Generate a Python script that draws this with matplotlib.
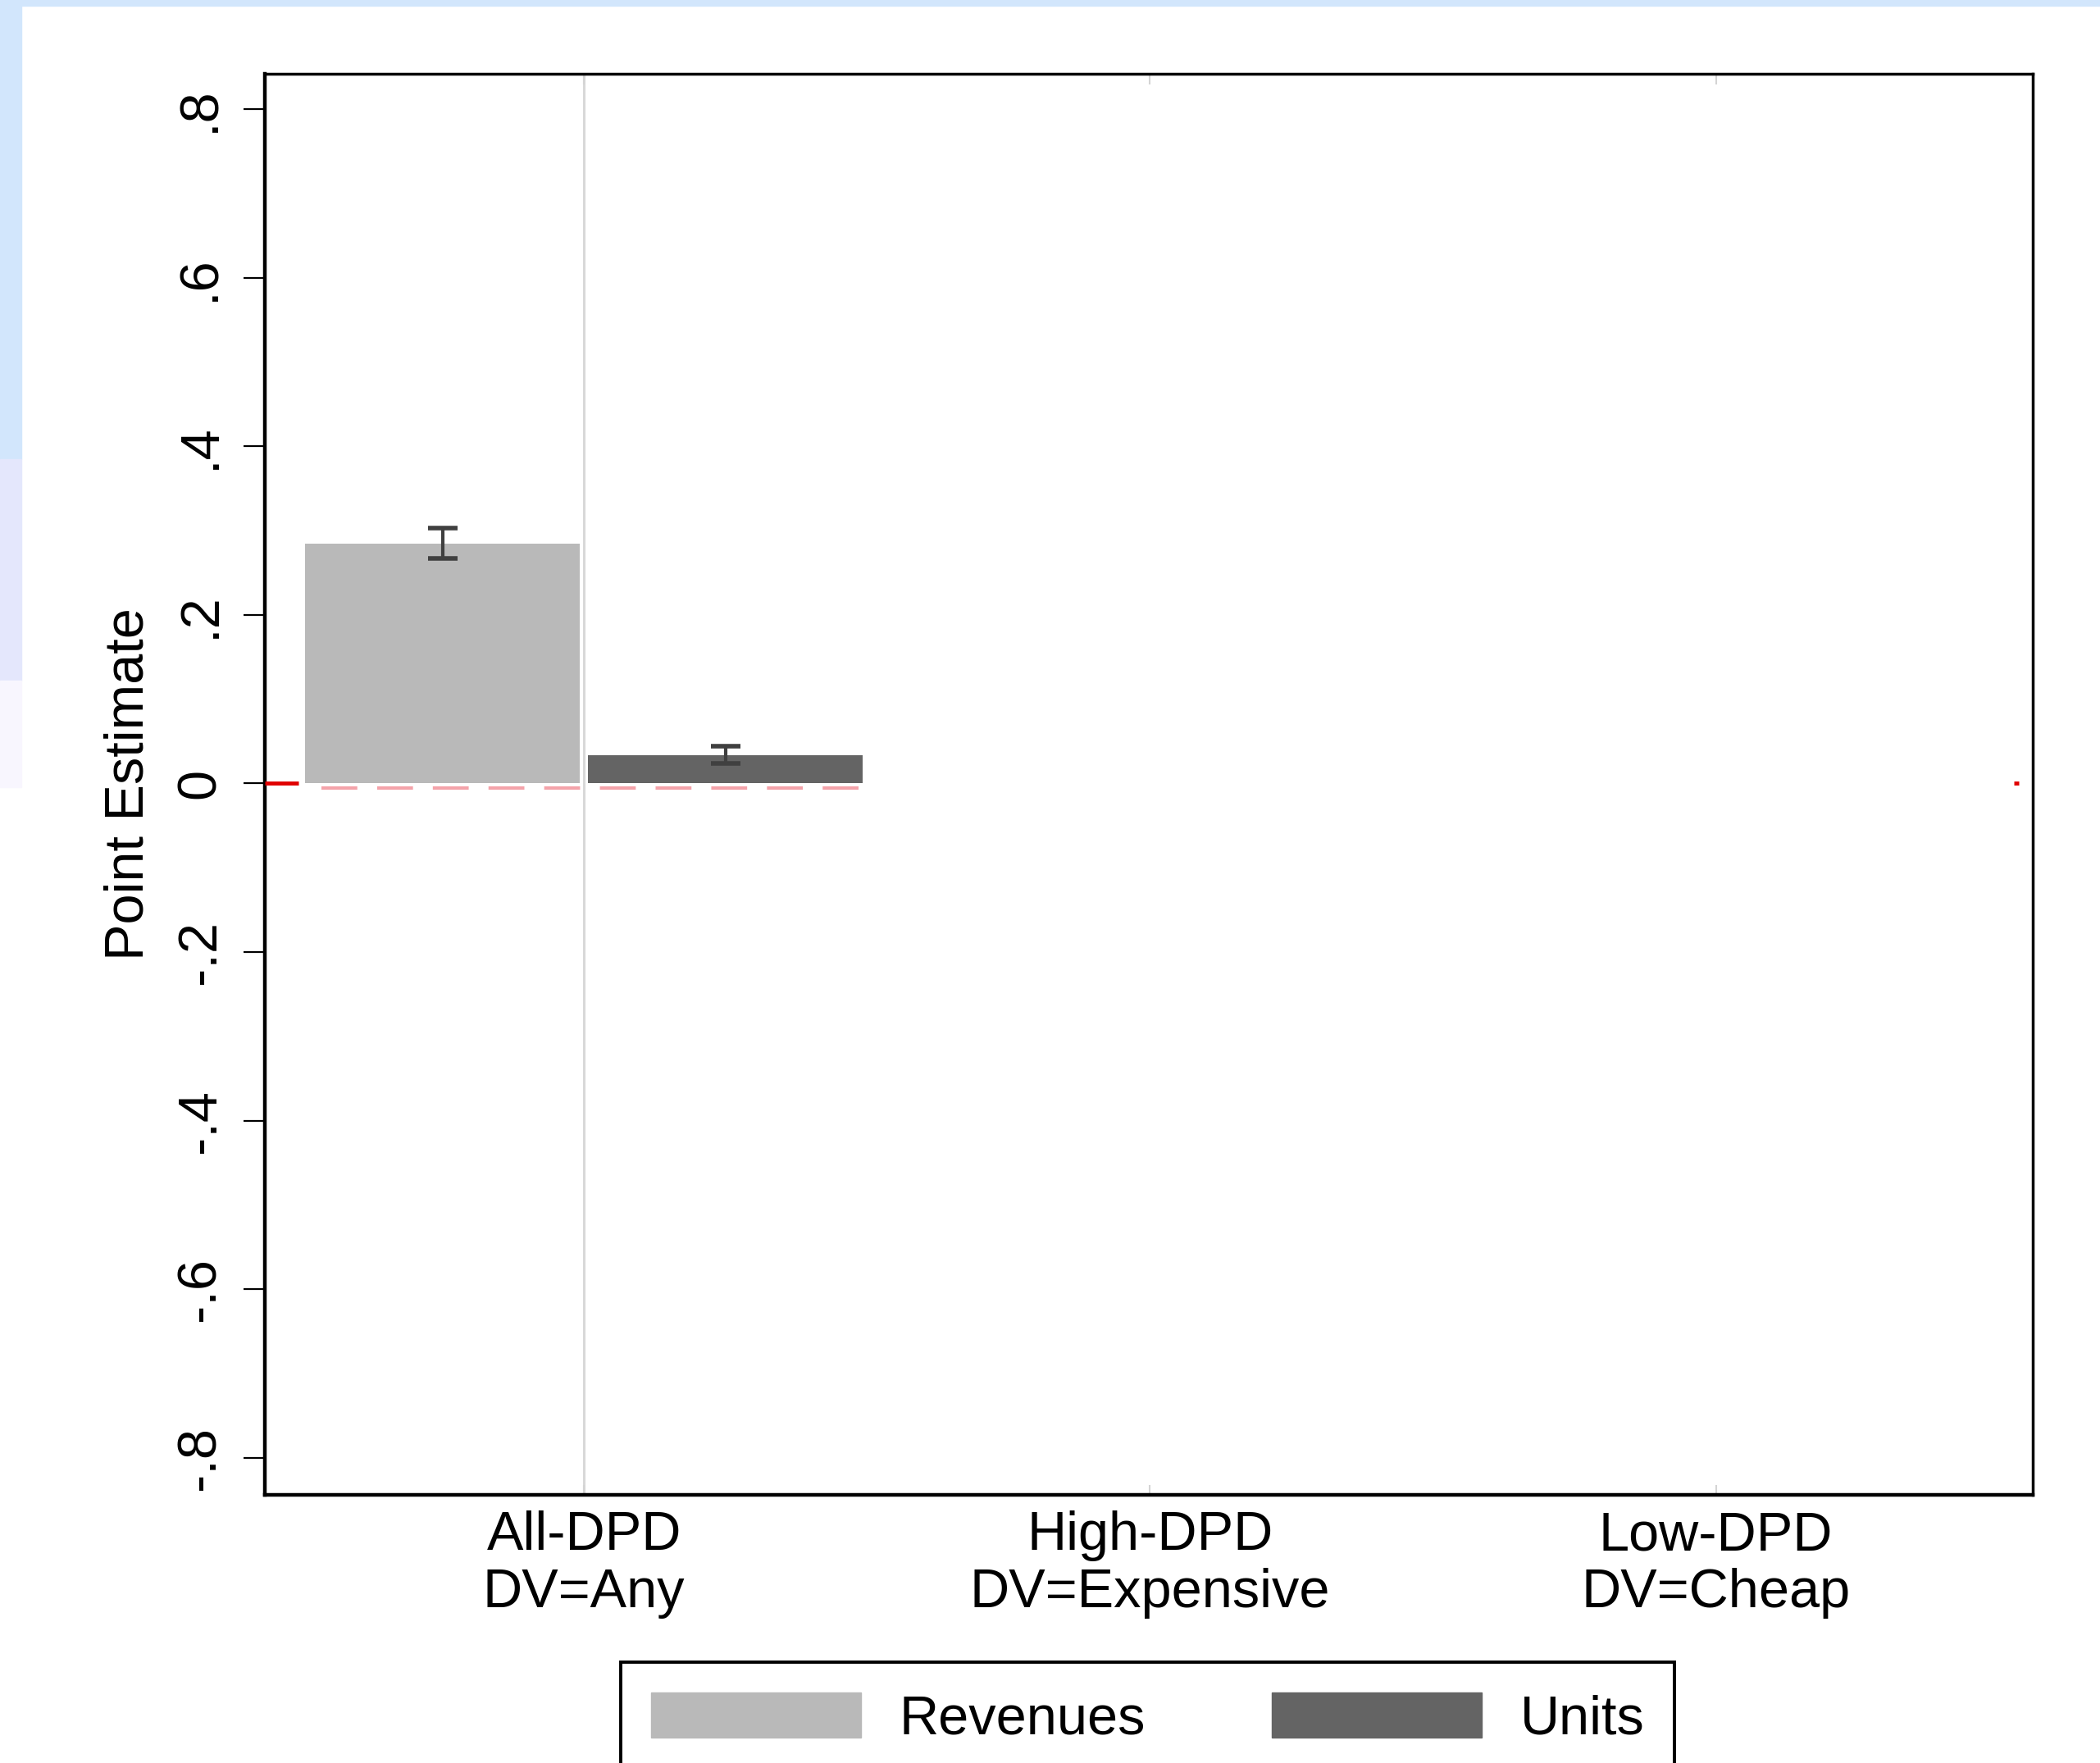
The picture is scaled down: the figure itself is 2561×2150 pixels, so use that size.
import matplotlib
matplotlib.use("Agg")
import matplotlib.pyplot as plt
import numpy as np
from matplotlib.patches import Rectangle, Patch

# data
categories = ["All-DPD\nDV=Any", "High-DPD\nDV=Expensive", "Low-DPD\nDV=Cheap"]
series = ["Revenues", "Units"]
estimates = [[0.285], [0.034]]      # only the first group has bars
errors = [[0.018], [0.010]]
ytick_vals = [-0.8, -0.6, -0.4, -0.2, 0, 0.2, 0.4, 0.6, 0.8]
ytick_labels = ["-.8", "-.6", "-.4", "-.2", "0", ".2", ".4", ".6", ".8"]
colors = ["#b9b9b9", "#646464"]

plt.rcParams["font.family"] = ["Liberation Sans", "DejaVu Sans"]
FS = 48

fig = plt.figure(figsize=(25.61, 21.5), dpi=100)
fig.patch.set_facecolor("white")

# slide background strips
fig.patches.append(Rectangle((0, 1 - 7 / 2150), 1, 7 / 2150, transform=fig.transFigure,
                             color="#d2e6fc", zorder=0))
fig.patches.append(Rectangle((0, 1 - 560 / 2150), 26 / 2561, 560 / 2150, transform=fig.transFigure,
                             color="#d2e6fc", zorder=0))
fig.patches.append(Rectangle((0, 1 - 830 / 2150), 26 / 2561, 270 / 2150, transform=fig.transFigure,
                             color="#e4e7fc", zorder=0))
fig.patches.append(Rectangle((0, 1 - 960 / 2150), 26 / 2561, 130 / 2150, transform=fig.transFigure,
                             color="#f8f6fe", zorder=0))

ax = fig.add_axes([323 / 2561, 1 - 1823 / 2150, (2479 - 323) / 2561, (1823 - 90) / 2150])
ax.set_xlim(-0.564, 2.56)
ax.set_ylim(-0.844, 0.842)

x = np.arange(len(estimates[0]))
offsets = [-0.25, 0.25]
for i, s in enumerate(series):
    ax.bar(x + offsets[i], estimates[i], width=0.486, color=colors[i], zorder=2, label=s)
    ax.errorbar(x + offsets[i], estimates[i], yerr=errors[i], fmt="none",
                ecolor="#404040", elinewidth=3, capsize=13, capthick=4, zorder=3)

# zero reference line
ax.plot([-0.564, -0.505], [0, 0], color="#e00000", lw=3.5, zorder=4, solid_capstyle="butt")
ax.plot([-0.464, 0.505], [-0.005, -0.005], color="#f4a3aa", lw=3, zorder=4, dashes=(10.5, 5.8))
ax.plot([2.527, 2.535], [0, 0], color="#e00000", lw=3.5, zorder=4, solid_capstyle="butt")

# vertical light line at first group
ax.axvline(0, color="#d8d8d8", lw=2.2, zorder=0)

ax.set_xticks(range(len(categories)))
ax.set_xticklabels(categories, fontsize=FS, linespacing=1.15)
ax.tick_params(axis="x", direction="in", length=9, width=1.5, color="#d4d4d4",
               top=True, pad=14, labelcolor="black")

ax.set_yticks(ytick_vals)
ax.set_yticklabels(ytick_labels, fontsize=FS, rotation=90, va="center")
ax.tick_params(axis="y", direction="out", length=19, width=1.6, pad=15)
ax.set_ylabel("Point Estimate", fontsize=FS, labelpad=18)

for side in ["left", "bottom"]:
    ax.spines[side].set_linewidth(3.2)
for side in ["top", "right"]:
    ax.spines[side].set_linewidth(2.5)

handles = [Patch(color=c) for c in colors]
leg = fig.legend(handles, series, loc="upper center", bbox_to_anchor=(0.5465, 1 - 2027 / 2150),
                 ncol=2, frameon=True, fancybox=False, edgecolor="black", framealpha=1,
                 fontsize=FS, handlelength=3.85, handleheight=0.9, handletextpad=0.7,
                 columnspacing=2.3, borderpad=0.55, borderaxespad=0)
leg.get_frame().set_linewidth(2.8)

fig.savefig("out.png", dpi=100)
